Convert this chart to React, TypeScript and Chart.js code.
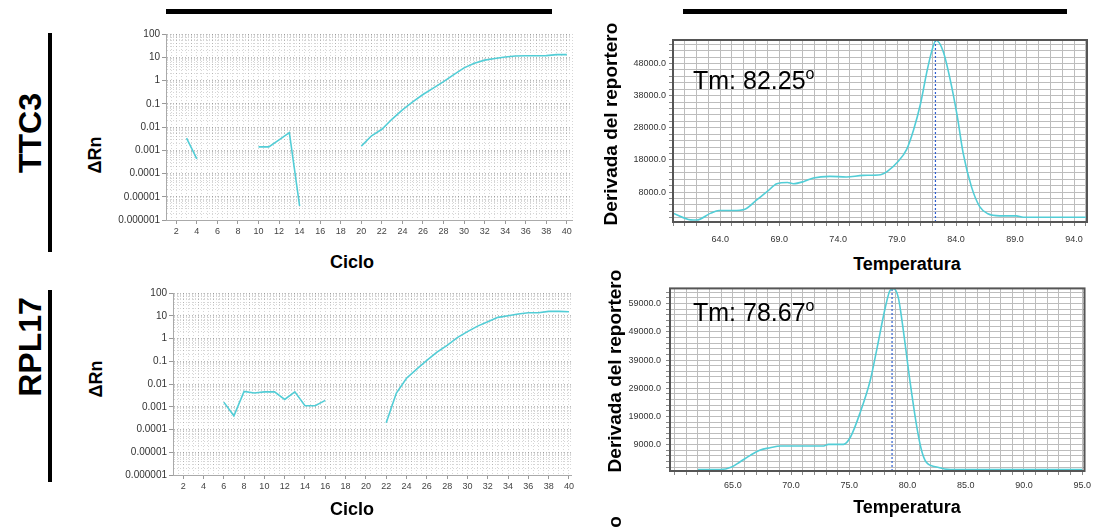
import React, { useEffect, useRef } from 'react';
import { Chart, registerables } from 'chart.js';

Chart.register(...registerables);

const FONT = '"Liberation Sans", Arial, Helvetica, sans-serif';
const LINE_COLOR = '#52cdd6';
const TM_COLOR = '#2f5fd0';

// ---------- Amplification plots (ΔRn vs Ciclo) ----------
const CYCLES = [1, 2, 3, 4, 5, 6, 7, 8, 9, 10, 11, 12, 13, 14, 15, 16, 17, 18, 19, 20, 21, 22, 23, 24, 25, 26, 27, 28, 29, 30, 31, 32, 33, 34, 35, 36, 37, 38, 39, 40];
const TTC3_DELTA_RN = [
  null, null, 0.0033, 0.00043, null, null, null, null, null, 0.0014,
  0.0014, 0.0028, 0.0057, 0.000004, null, null, null, null, null, 0.0015,
  0.0042, 0.008, 0.022, 0.055, 0.12, 0.25, 0.47, 0.9, 1.8, 3.5,
  5.5, 7.5, 8.8, 10.2, 11.3, 11.6, 11.6, 11.8, 13, 13,
];
const RPL17_DELTA_RN = [
  null, null, null, null, null, 0.0016, 0.0004, 0.0047, 0.004, 0.0045,
  0.0045, 0.0021, 0.0045, 0.0011, 0.0011, 0.0019, null, null, null, null,
  null, 0.0002, 0.004, 0.018, 0.045, 0.11, 0.25, 0.5, 1.1, 2,
  3.5, 5.5, 8.5, 10, 12, 13.5, 13.5, 15.5, 15.5, 15,
];
const LOG_TICK_LABELS = ['0.000001', '0.00001', '0.0001', '0.001', '0.01', '0.1', '1', '10', '100'];
const CYCLE_TICK_LABELS = [2, 4, 6, 8, 10, 12, 14, 16, 18, 20, 22, 24, 26, 28, 30, 32, 34, 36, 38, 40];

// ---------- Melt curves (Derivada del reportero vs Temperatura) ----------
const TTC3_TEMP = [60.0, 61.5, 62.0, 63.2, 63.9, 65.1, 66.1, 67.1, 68.0, 68.8, 69.7, 70.2, 71.1, 71.9, 73.3, 74.7, 76.1, 77.6, 78.3, 79.0, 79.8, 80.4, 81.0, 81.5, 81.9, 82.3, 82.9, 83.5, 84.1, 84.6, 85.3, 86.0, 86.7, 87.7, 89.1, 89.7, 95.0];
const TTC3_DERIV = [1460, -630, -700, 1460, 2270, 2270, 2700, 5600, 8200, 10600, 11000, 10600, 11300, 12400, 12900, 12700, 13200, 13400, 14800, 17200, 21200, 27400, 35700, 45000, 51300, 55200, 51800, 43000, 31600, 20100, 9700, 3500, 1240, 600, 600, 200, 200];
const TTC3_TM = 82.25;
const TTC3_Y_LABELS = [8000, 18000, 28000, 38000, 48000];
const TTC3_X_LABELS = [64, 69, 74, 79, 84, 89, 94];

const RPL17_TEMP = [62.0, 63.9, 64.9, 65.6, 66.5, 67.3, 68.2, 69.1, 70.5, 72.8, 73.2, 74.5, 75.1, 75.9, 76.8, 77.4, 78.1, 78.5, 78.8, 79.2, 79.6, 80.2, 80.8, 81.2, 81.6, 82.5, 83.7, 95.0];
const RPL17_DERIV = [150, 150, 1060, 2830, 5200, 7000, 7900, 8500, 8500, 8500, 9100, 9100, 11700, 20000, 31800, 43600, 57800, 63700, 64300, 61300, 50700, 31800, 15200, 7000, 2800, 1050, 150, 150];
const RPL17_TM = 78.67;
const RPL17_Y_LABELS = [9000, 19000, 29000, 39000, 49000, 59000];
const RPL17_X_LABELS = [65, 70, 75, 80, 85, 90, 95];

const isMajorLog = (v: number) => {
  const l = Math.log10(v);
  return Math.abs(l - Math.round(l)) < 1e-6;
};

const LOG_GRID: number[] = (() => {
  const out: number[] = [];
  for (let e = -6; e <= 2; e++) {
    for (let m = 1; m <= 9; m++) {
      const v = m * Math.pow(10, e);
      if (v <= 100.0000001) out.push(v);
    }
  }
  return out;
})();

function ampConfig(values: (number | null)[], yAxisWidth: number, padTop: number, xMax: number): any {
  const gridX: number[] = [];
  for (let v = 1; v <= xMax + 1e-9; v += 0.5) gridX.push(v);
  return {
    type: 'line',
    data: {
      datasets: [
        {
          data: CYCLES.map((c, i) => ({ x: c, y: values[i] })),
          borderColor: LINE_COLOR,
          borderWidth: 1.6,
          pointRadius: 0,
          tension: 0,
          spanGaps: false,
        },
      ],
    },
    options: {
      animation: false,
      responsive: false,
      maintainAspectRatio: false,
      devicePixelRatio: 1,
      layout: { padding: { top: padTop, right: 4, left: 0, bottom: 0 } },
      plugins: { legend: { display: false }, tooltip: { enabled: false } },
      scales: {
        x: {
          type: 'linear',
          min: 1,
          max: xMax,
          afterBuildTicks: (ax: any) => {
            ax.ticks = gridX.map((v) => ({ value: v }));
          },
          afterFit: (ax: any) => {
            ax.height = 30;
          },
          ticks: {
            autoSkip: false,
            maxRotation: 0,
            padding: 2,
            color: '#444',
            font: { size: 9, family: FONT },
            callback: (v: number) => (CYCLE_TICK_LABELS.includes(v) ? String(v) : ''),
          },
          grid: {
            color: 'rgba(0,0,0,0.16)',
            lineWidth: 1,
            tickLength: 4,
            tickColor: (c: any) => (c.tick && CYCLE_TICK_LABELS.includes(c.tick.value) ? '#999' : 'rgba(0,0,0,0)'),
          },
          border: { display: true, color: '#aaa', width: 1, dash: [1, 2] },
        },
        y: {
          type: 'logarithmic',
          min: 1e-6,
          max: 100,
          afterBuildTicks: (ax: any) => {
            ax.ticks = LOG_GRID.map((v) => ({ value: v }));
          },
          afterFit: (ax: any) => {
            ax.width = yAxisWidth;
          },
          ticks: {
            autoSkip: false,
            padding: 2,
            color: '#333',
            font: { size: 10, family: FONT },
            callback: (v: number) => (isMajorLog(v) ? LOG_TICK_LABELS[Math.round(Math.log10(v)) + 6] : ''),
          },
          grid: {
            color: (c: any) => (c.tick && isMajorLog(c.tick.value) ? 'rgba(0,0,0,0.28)' : 'rgba(0,0,0,0.16)'),
            lineWidth: 1,
            tickLength: 4,
            tickColor: (c: any) => (c.tick && isMajorLog(c.tick.value) ? '#999' : 'rgba(0,0,0,0)'),
          },
          border: { display: true, color: '#aaa', width: 1, dash: [1, 2] },
        },
      },
    },
  };
}

const boxBorder = {
  id: 'boxBorder',
  afterDraw(chart: any) {
    const { ctx, chartArea: a } = chart;
    ctx.save();
    ctx.strokeStyle = '#555';
    ctx.lineWidth = 2;
    ctx.strokeRect(a.left, a.top, a.right - a.left, a.bottom - a.top);
    ctx.restore();
  },
};

interface MeltOpts {
  temp: number[];
  deriv: number[];
  tm: number;
  xMin: number;
  xMax: number;
  yMin: number;
  yMax: number;
  yTickStart: number;
  yLabels: number[];
  xLabels: number[];
  yAxisWidth: number;
  padTop: number;
  padRight: number;
  xAxisHeight: number;
  xLabelPad: number;
  yLabelPad: number;
}

function meltConfig(o: MeltOpts): any {
  const gridX: number[] = [];
  for (let v = Math.ceil(o.xMin); v <= o.xMax; v += 1) gridX.push(v);
  const gridY: number[] = [];
  for (let v = o.yTickStart; v <= o.yMax; v += 2000) gridY.push(v);
  return {
    type: 'line',
    plugins: [boxBorder],
    data: {
      datasets: [
        {
          data: o.temp.map((t, i) => ({ x: t, y: o.deriv[i] })),
          borderColor: LINE_COLOR,
          borderWidth: 1.6,
          pointRadius: 0,
          cubicInterpolationMode: 'monotone',
        },
        {
          data: [
            { x: o.tm, y: o.yMin },
            { x: o.tm, y: o.yMax },
          ],
          borderColor: TM_COLOR,
          borderWidth: 1.2,
          borderDash: [2, 2],
          pointRadius: 0,
        },
      ],
    },
    options: {
      animation: false,
      responsive: false,
      maintainAspectRatio: false,
      devicePixelRatio: 1,
      layout: { padding: { top: o.padTop, right: o.padRight, left: 0, bottom: 0 } },
      plugins: { legend: { display: false }, tooltip: { enabled: false } },
      scales: {
        x: {
          type: 'linear',
          min: o.xMin,
          max: o.xMax,
          afterBuildTicks: (ax: any) => {
            ax.ticks = gridX.map((v) => ({ value: v }));
          },
          afterFit: (ax: any) => {
            ax.height = o.xAxisHeight;
          },
          ticks: {
            autoSkip: false,
            maxRotation: 0,
            padding: o.xLabelPad,
            color: '#333',
            font: { size: 9, family: FONT },
            callback: (v: number) => (o.xLabels.includes(v) ? v.toFixed(1) : ''),
          },
          grid: { color: '#bdbdbd', lineWidth: 1, tickLength: 4, tickColor: '#888' },
          border: { display: false },
        },
        y: {
          type: 'linear',
          min: o.yMin,
          max: o.yMax,
          afterBuildTicks: (ax: any) => {
            ax.ticks = gridY.map((v) => ({ value: v }));
          },
          afterFit: (ax: any) => {
            ax.width = o.yAxisWidth;
          },
          ticks: {
            autoSkip: false,
            padding: o.yLabelPad,
            color: '#333',
            font: { size: 9, family: FONT },
            callback: (v: number) => (o.yLabels.includes(v) ? v.toFixed(1) : ''),
          },
          grid: { color: '#bdbdbd', lineWidth: 1, tickLength: 4, tickColor: '#888' },
          border: { display: false },
        },
      },
    },
  };
}

function ChartBox({ left, top, width, height, makeConfig }: { left: number; top: number; width: number; height: number; makeConfig: () => any }) {
  const ref = useRef<HTMLCanvasElement>(null);
  useEffect(() => {
    const chart = new Chart(ref.current as HTMLCanvasElement, makeConfig());
    return () => chart.destroy();
  }, []);
  return (
    <div style={{ position: 'absolute', left, top, width, height }}>
      <canvas ref={ref} width={width} height={height} style={{ display: 'block', width, height }} />
    </div>
  );
}

function Label({ x, y, text, size, bold = true, rotate = false }: { x: number; y: number; text: string; size: number; bold?: boolean; rotate?: boolean }) {
  return (
    <div
      style={{
        position: 'absolute',
        left: x,
        top: y,
        transform: `translate(-50%, -50%)${rotate ? ' rotate(-90deg)' : ''}`,
        fontFamily: FONT,
        fontSize: size,
        fontWeight: bold ? 700 : 400,
        whiteSpace: 'nowrap',
        lineHeight: 1,
        color: '#000',
      }}
    >
      {text}
    </div>
  );
}

function TmLabel({ x, y, value }: { x: number; y: number; value: string }) {
  return (
    <div style={{ position: 'absolute', left: x, top: y, fontFamily: FONT, fontSize: 25, lineHeight: 1, color: '#000', whiteSpace: 'nowrap' }}>
      {`Tm: ${value}`}
      <span style={{ fontSize: 16, position: 'relative', top: -10 }}>o</span>
    </div>
  );
}

function Bar({ x, y, w, h }: { x: number; y: number; w: number; h: number }) {
  return <div style={{ position: 'absolute', left: x, top: y, width: w, height: h, background: '#000' }} />;
}

export default function App() {
  return (
    <div style={{ position: 'fixed', left: 0, top: 0, width: 1096, height: 529, background: '#fff', overflow: 'hidden' }}>
      {/* header bars */}
      <Bar x={166} y={9} w={386} h={5} />
      <Bar x={683} y={9} w={384} h={5} />
      {/* gene side bars */}
      <Bar x={48} y={33} w={4} h={219} />
      <Bar x={48} y={290} w={4} h={192} />

      <Label x={30} y={133} text="TTC3" size={32} rotate />
      <Label x={30} y={347} text="RPL17" size={32} rotate />

      <Label x={95} y={155} text="ΔRn" size={18} rotate />
      <Label x={96} y={379} text="ΔRn" size={18} rotate />

      <ChartBox left={100} top={20} width={476} height={230} makeConfig={() => ampConfig(TTC3_DELTA_RN, 66, 14, 40.5)} />
      <ChartBox left={100} top={280} width={476} height={225} makeConfig={() => ampConfig(RPL17_DELTA_RN, 73, 13, 40.2)} />

      <Label x={352} y={262} text="Ciclo" size={18} />
      <Label x={352} y={509} text="Ciclo" size={18} />

      <ChartBox
        left={610}
        top={30}
        width={486}
        height={220}
        makeConfig={() =>
          meltConfig({
            temp: TTC3_TEMP,
            deriv: TTC3_DERIV,
            tm: TTC3_TM,
            xMin: 60.0,
            xMax: 95.1,
            yMin: -1300,
            yMax: 55300,
            yTickStart: 0,
            yLabels: TTC3_Y_LABELS,
            xLabels: TTC3_X_LABELS,
            yAxisWidth: 63,
            padTop: 10,
            padRight: 9,
            xAxisHeight: 28,
            xLabelPad: 8,
            yLabelPad: 3,
          })
        }
      />
      <ChartBox
        left={607}
        top={278}
        width={489}
        height={222}
        makeConfig={() =>
          meltConfig({
            temp: RPL17_TEMP,
            deriv: RPL17_DERIV,
            tm: RPL17_TM,
            xMin: 59.6,
            xMax: 95.2,
            yMin: -360,
            yMax: 64400,
            yTickStart: 1000,
            yLabels: RPL17_Y_LABELS,
            xLabels: RPL17_X_LABELS,
            yAxisWidth: 63,
            padTop: 10,
            padRight: 8,
            xAxisHeight: 29,
            xLabelPad: 5,
            yLabelPad: 5,
          })
        }
      />

      <TmLabel x={693} y={68} value="82.25" />
      <TmLabel x={693} y={300} value="78.67" />

      <Label x={610} y={124} text="Derivada del reportero" size={19} rotate />
      <Label x={614} y={371} text="Derivada del reportero" size={19} rotate />
      <Label x={614} y={522} text="o" size={19} rotate />

      <Label x={907} y={264} text="Temperatura" size={18} />
      <Label x={907} y={507} text="Temperatura" size={18} />
    </div>
  );
}
